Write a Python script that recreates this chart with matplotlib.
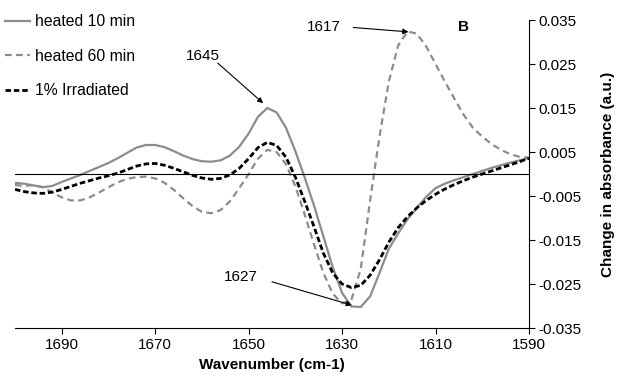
import matplotlib
matplotlib.use('Agg')
import matplotlib.pyplot as plt
import numpy as np

plt.rcParams['font.family'] = ['Liberation Sans', 'DejaVu Sans']

# Wavenumber grid (cm-1), read every 2 units off the picture
wavenumber = np.arange(1700, 1589, -2)

heated_10 = [
    -0.0020, -0.0022, -0.0026, -0.0030, -0.0027, -0.0018, -0.0010, -0.0002,
    0.0007, 0.0016, 0.0025, 0.0036, 0.0048, 0.0060, 0.0066, 0.0066,
    0.0061, 0.0052, 0.0042, 0.0034, 0.0029, 0.0028, 0.0031, 0.0042,
    0.0062, 0.0092, 0.0130, 0.0150, 0.0140, 0.0105, 0.0052, -0.0008,
    -0.0072, -0.0142, -0.0212, -0.0270, -0.0301, -0.0302, -0.0278, -0.0225,
    -0.0170, -0.0135, -0.0103, -0.0077, -0.0052, -0.0032, -0.0022, -0.0014,
    -0.0007, 0.0000, 0.0007, 0.0014, 0.0020, 0.0026, 0.0031, 0.0036,
]

heated_60 = [
    -0.0025, -0.0027, -0.0025, -0.0030, -0.0042, -0.0053, -0.0060, -0.0060,
    -0.0053, -0.0042, -0.0030, -0.0019, -0.0011, -0.0007, -0.0006, -0.0010,
    -0.0020, -0.0036, -0.0055, -0.0073, -0.0086, -0.0089, -0.0082, -0.0062,
    -0.0032, 0.0000, 0.0035, 0.0055, 0.0050, 0.0022, -0.0028, -0.0092,
    -0.0160, -0.0225, -0.0272, -0.0294, -0.0286, -0.0215, -0.0060, 0.0085,
    0.0210, 0.0292, 0.0324, 0.0319, 0.0290, 0.0250, 0.0210, 0.0172,
    0.0135, 0.0105, 0.0085, 0.0068, 0.0055, 0.0045, 0.0039, 0.0037,
]

irradiated = [
    -0.0035, -0.0040, -0.0043, -0.0044, -0.0041, -0.0035, -0.0028, -0.0021,
    -0.0015, -0.0009, -0.0004, 0.0002, 0.0010, 0.0018, 0.0023, 0.0024,
    0.0020, 0.0013, 0.0005, -0.0003, -0.0009, -0.0012, -0.0010, -0.0002,
    0.0013, 0.0035, 0.0060, 0.0072, 0.0065, 0.0038, -0.0007, -0.0062,
    -0.0120, -0.0180, -0.0225, -0.0250, -0.0258, -0.0253, -0.0230, -0.0195,
    -0.0155, -0.0122, -0.0097, -0.0077, -0.0060, -0.0046, -0.0034, -0.0024,
    -0.0015, -0.0007, 0.0000, 0.0007, 0.0014, 0.0021, 0.0028, 0.0036,
]

x_ticks = [1690, 1670, 1650, 1630, 1610, 1590]
y_ticks = [-0.035, -0.025, -0.015, -0.005, 0.005, 0.015, 0.025, 0.035]

# peak labels: text, text position, arrow start, arrow tip
peaks = [
    ('1645', (1659.8, 0.0268), (1656.6, 0.0252), (1646.9, 0.0161)),
    ('1617', (1633.9, 0.0334), (1627.6, 0.0333), (1615.8, 0.0323)),
    ('1627', (1651.6, -0.0234), (1645.0, -0.0245), (1627.9, -0.0298)),
]

fig = plt.figure(figsize=(6.19, 3.81), dpi=100)
ax = fig.add_axes([0.0242, 0.139, 0.8304, 0.8085])

gray = '#8c8c8c'
ax.plot(wavenumber, heated_10, color=gray, lw=1.6, label='heated 10 min')
ax.plot(wavenumber, heated_60, color=gray, lw=1.6, dashes=(3, 2),
        label='heated 60 min')
ax.plot(wavenumber, irradiated, color='black', lw=2, dashes=(2, 1),
        label='1% Irradiated')
ax.axhline(0, color='black', lw=0.8)

for txt, tpos, start, tip in peaks:
    ax.text(tpos[0], tpos[1], txt, ha='center', va='center', fontsize=11)
    ax.annotate('', xy=tip, xytext=start,
                arrowprops=dict(arrowstyle='-|>', color='black', lw=0.8,
                                mutation_scale=8, shrinkA=0, shrinkB=0))

ax.text(1604.0, 0.0334, 'B', ha='center', va='center', fontsize=11,
        fontweight='bold')

ax.set_xlim(1700, 1590)
ax.set_ylim(-0.035, 0.035)
ax.set_xticks(x_ticks)
ax.set_yticks(y_ticks)
ax.set_yticklabels(['%.3f' % v for v in y_ticks])

ax.spines['top'].set_visible(False)
ax.spines['left'].set_visible(False)
ax.yaxis.tick_right()
ax.yaxis.set_label_position('right')
ax.tick_params(axis='both', direction='out', length=4, width=0.8,
               labelsize=11)
ax.tick_params(axis='y', pad=3)

ax.set_xlabel('Wavenumber (cm-1)', fontsize=11, fontweight='bold',
              labelpad=4)
ax.set_ylabel('Change in absorbance (a.u.)', fontsize=11, fontweight='bold',
              labelpad=14)

ax.legend(loc='upper left', bbox_to_anchor=(0.008, 0.963),
          bbox_transform=fig.transFigure, frameon=False, fontsize=11.3,
          handlelength=1.6, handletextpad=0.3, labelspacing=1.25,
          borderpad=0, borderaxespad=0)

fig.savefig('out.png', dpi=100)
